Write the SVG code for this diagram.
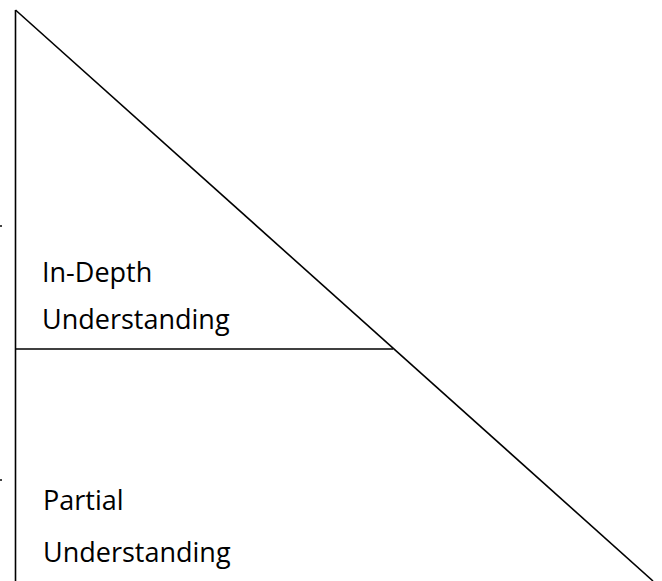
<svg xmlns="http://www.w3.org/2000/svg" width="662" height="581" viewBox="0 0 662 581">
  <style>
    .ln { stroke: #000; stroke-width: 1.6; fill: none; }
    .lbl { font-family: "Open Sans", "Liberation Sans", sans-serif; font-size: 27px; fill: #000; }
    .mk { fill: #444; }
  </style>
  <rect width="662" height="581" fill="#fff"/>
  <g id="connectors">
    <!-- left axis -->
    <line class="ln" x1="15.5" y1="10" x2="15.5" y2="581"/>
    <!-- hypotenuse -->
    <line class="ln" x1="15.5" y1="10" x2="653" y2="581"/>
    <!-- divider between the two levels -->
    <line class="ln" x1="15.5" y1="349" x2="393" y2="349"/>
    <!-- small marks at the left edge -->
    <rect class="mk" x="0" y="225" width="2" height="2"/>
    <rect class="mk" x="0" y="479" width="2" height="2"/>
  </g>
  <g id="in-depth">
    <text class="lbl" x="42" y="282">In-Depth</text>
    <text class="lbl" x="42" y="329">Understanding</text>
  </g>
  <g id="partial">
    <text class="lbl" x="43" y="510">Partial</text>
    <text class="lbl" x="43" y="562">Understanding</text>
  </g>
</svg>
